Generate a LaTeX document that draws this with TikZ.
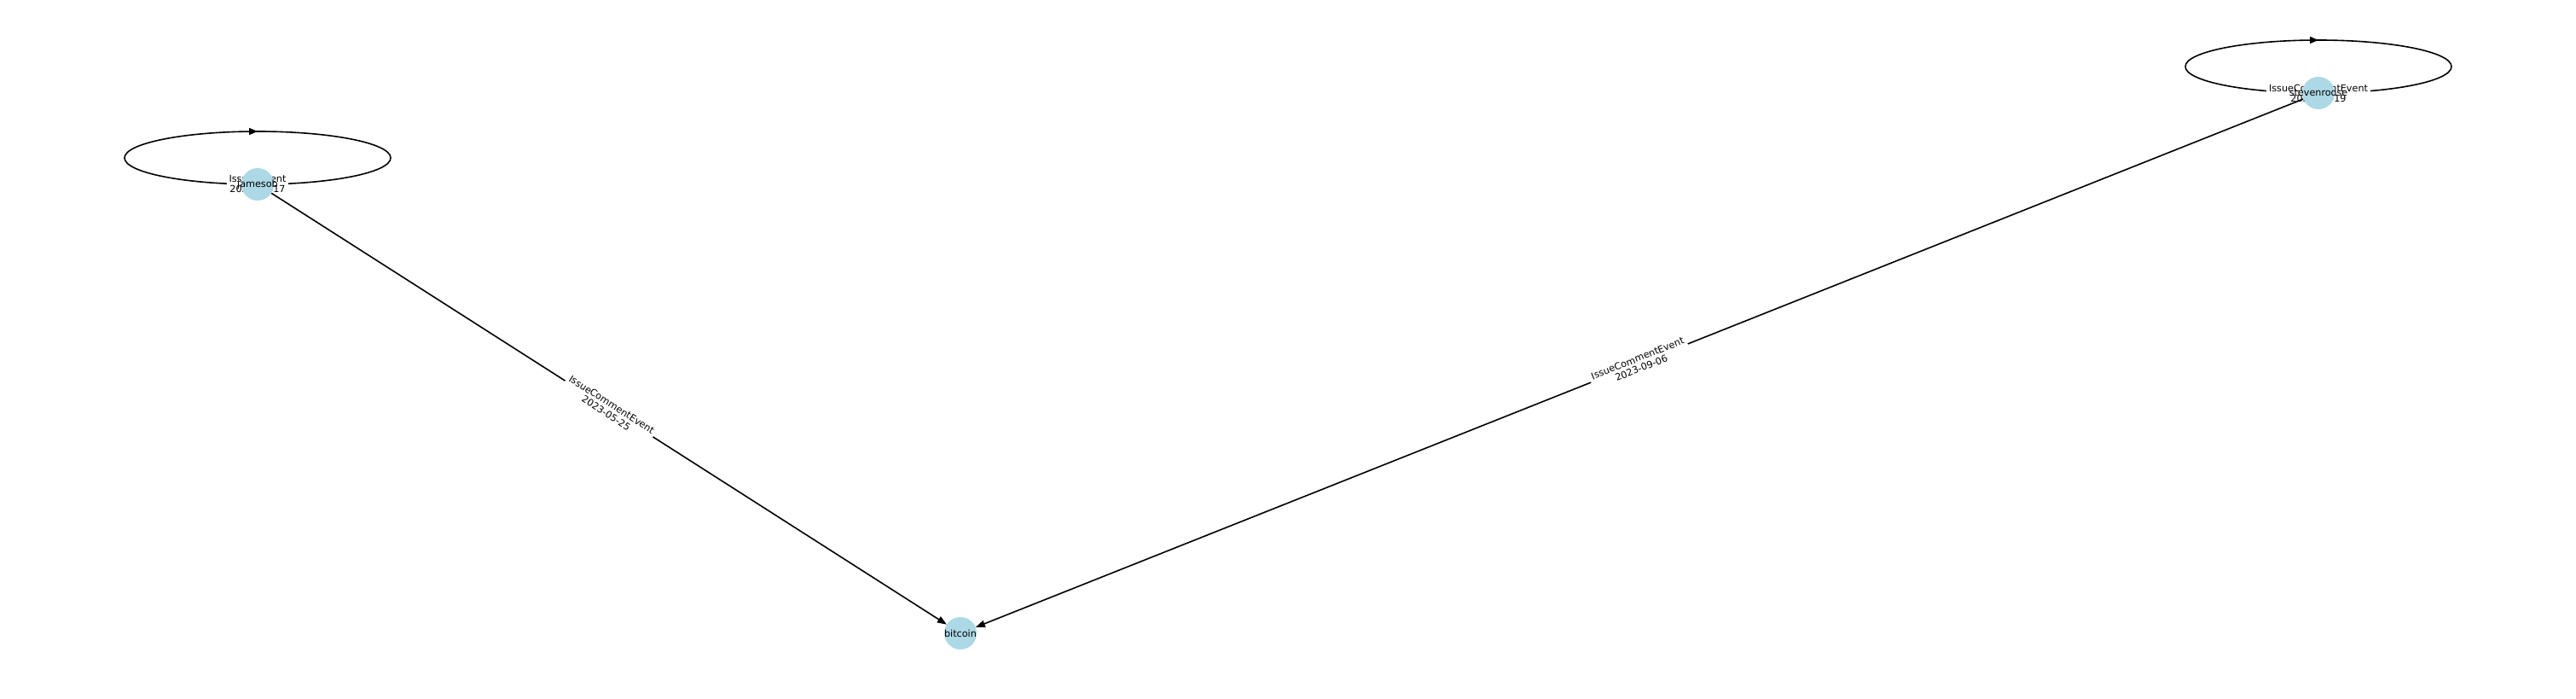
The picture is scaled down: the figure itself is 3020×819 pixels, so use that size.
\documentclass[tikz,border=0pt]{standalone}
\usepackage{fontspec}
\setmainfont{DejaVu Sans}
\usepackage{xcolor}
\usetikzlibrary{arrows.meta,backgrounds,decorations.markings,calc}
\definecolor{nodeblue}{RGB}{173,216,230}
\newcommand{\usrname}[1]{\makebox[0pt]{#1}}

\begin{document}
\begin{tikzpicture}[x=1pt, y=1pt, font=\fontsize{11.2}{12}\selectfont,
  usernode/.style={circle, fill=nodeblue, minimum size=38pt, inner sep=0pt},
  evlabel/.style={fill=white, align=center, inner sep=3pt},
  evedge/.style={line width=1.6pt, -{Triangle[length=11pt,width=8pt]}},
  selfloop/.style={line width=1.6pt, postaction={decorate},
    decoration={markings, mark=at position 0.25 with {\arrow{Triangle[length=10pt,width=8pt]}}}}]
\useasboundingbox (0,0) rectangle (3020,819);
% users and repo
\node[usernode] (jamesob) at (302,603) {\usrname{jamesob}};
\node[usernode] (bitcoin) at (1126,77) {\usrname{bitcoin}};
\node[usernode] (stevenroose) at (2718,710) {\usrname{stevenroose}};
\begin{pgfonlayer}{background}
% self loops
\draw[selfloop] ($(jamesob.center)+(-156,31)$) arc[start angle=180, end angle=-180, x radius=156, y radius=31];
\node[evlabel] (jloop) at (jamesob.center) {IssuesEvent\\2023-05-17};
\draw[selfloop] ($(stevenroose.center)+(-156,31)$) arc[start angle=180, end angle=-180, x radius=156, y radius=31];
\node[evlabel] (sloop) at (stevenroose.center) {IssueCommentEvent\\2023-09-19};
% comments on bitcoin
\draw[evedge] (jamesob) -- node[evlabel, sloped] {IssueCommentEvent\\2023-05-25} (bitcoin);
\draw[evedge] (stevenroose) -- node[evlabel, sloped] {IssueCommentEvent\\2023-09-06} (bitcoin);
\end{pgfonlayer}
\end{tikzpicture}
\end{document}
